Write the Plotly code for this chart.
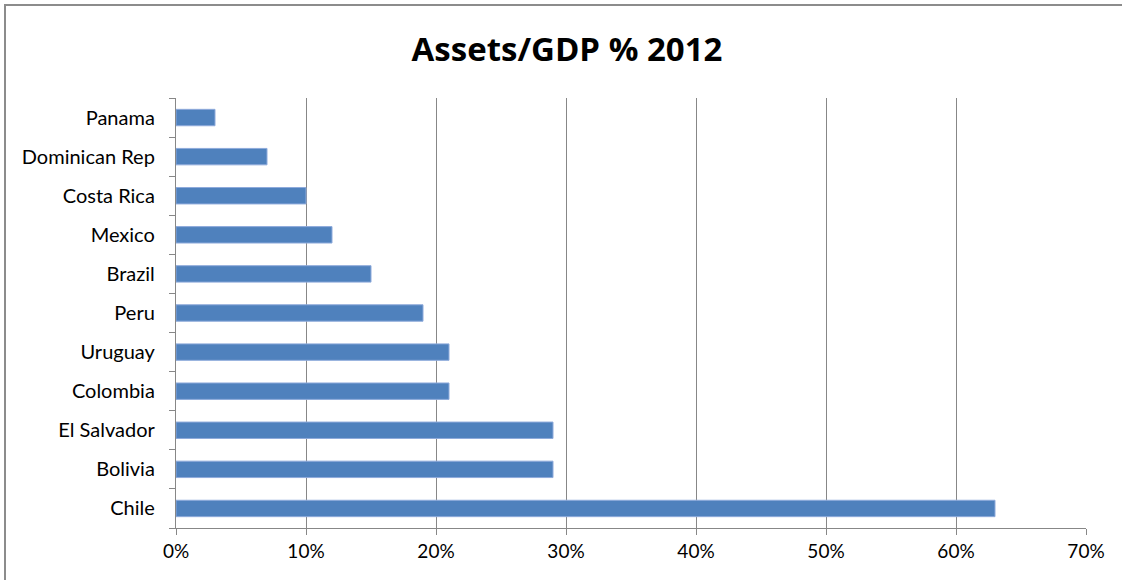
import plotly.graph_objects as go

countries = ["Chile", "Bolivia", "El Salvador", "Colombia", "Uruguay", "Peru",
             "Brazil", "Mexico", "Costa Rica", "Dominican Rep", "Panama"]
values = [0.63, 0.29, 0.29, 0.21, 0.21, 0.19, 0.15, 0.12, 0.10, 0.07, 0.03]
x_ticks = [0, 0.1, 0.2, 0.3, 0.4, 0.5, 0.6, 0.7]
x_tick_labels = ["0%", "10%", "20%", "30%", "40%", "50%", "60%", "70%"]

W, H = 1122, 580
L, R, T, B = 176, 36, 98, 52
pw, ph = W - L - R, H - T - B
FONT = "Lato, Carlito, Calibri, sans-serif"

fig = go.Figure(go.Bar(
    x=values, y=countries, orientation="h",
    marker=dict(color="#4F81BD", line=dict(color="#8EAADB", width=1)),
    width=0.42,
))

fig.update_layout(
    width=W, height=H,
    margin=dict(l=L, r=R, t=T, b=B),
    paper_bgcolor="white", plot_bgcolor="white",
    font=dict(family=FONT, size=20, color="#000000"),
    title=dict(text="<b>Assets/GDP % 2012</b>", xref="container", x=567 / W,
               y=1 - 49 / H, yanchor="middle", xanchor="center",
               font=dict(size=33, family="Open Sans, sans-serif")),
    showlegend=False,
)

fig.update_xaxes(
    range=[0, 0.7], tickvals=x_ticks, ticktext=x_tick_labels,
    showgrid=True, gridcolor="#878787", gridwidth=1.3,
    showline=True, linecolor="#878787", linewidth=1.3,
    ticks="outside", ticklen=6, tickcolor="#878787", tickwidth=1.3,
    zeroline=False, fixedrange=True,
    tickfont=dict(size=19),
)
fig.update_yaxes(
    categoryorder="array", categoryarray=countries,
    showline=True, linecolor="#878787", linewidth=1.3,
    ticks="outside", ticklen=6, tickcolor="#878787", tickwidth=1.3,
    tickson="boundaries", showgrid=False, fixedrange=True,
    ticklabelstandoff=16, tickfont=dict(size=20),
)

# chart border (only top and left visible in reference)
fig.add_shape(type="rect", xref="paper", yref="paper",
              x0=(5 - L) / pw, x1=(W + 20 - L) / pw,
              y0=-(B + 20) / ph, y1=(H - B - 5) / ph,
              line=dict(color="#8C8C8C", width=2), layer="below")

fig.write_html("out.html")
